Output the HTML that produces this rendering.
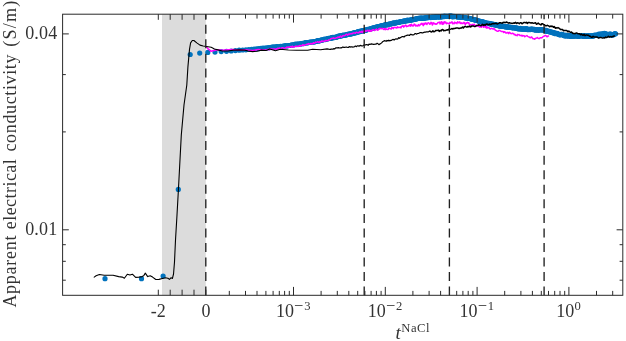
<!DOCTYPE html>
<html><head><meta charset="utf-8"><title>Apparent electrical conductivity</title>
<style>html,body{margin:0;padding:0;background:#fff}body{width:626px;height:341px;overflow:hidden}</style></head>
<body>
<svg width="626" height="341" viewBox="0 0 626 341" style="display:block">
<rect x="0" y="0" width="626" height="341" fill="#fff"/>
<rect x="162" y="14.2" width="43.8" height="281.1" fill="#dcdcdc"/>
<g fill="#0072bd">
<circle cx="105.0" cy="278.7" r="2.6"/>
<circle cx="141.5" cy="278.7" r="2.6"/>
<circle cx="163.1" cy="276.1" r="2.6"/>
<circle cx="178.3" cy="189.4" r="2.6"/>
<circle cx="190.2" cy="54.5" r="2.6"/>
<circle cx="199.7" cy="53.1" r="2.6"/>
<circle cx="207.8" cy="52.4" r="2.6"/>
<circle cx="215.0" cy="52.1" r="2.6"/>
<circle cx="221.2" cy="51.6" r="2.6"/>
<circle cx="226.5" cy="51.3" r="2.6"/>
<circle cx="231.2" cy="51.0" r="2.6"/>
<circle cx="235.4" cy="50.6" r="2.6"/>
<circle cx="239.2" cy="50.2" r="2.6"/>
<circle cx="242.7" cy="50.0" r="2.6"/>
<circle cx="245.9" cy="49.8" r="2.6"/>
<circle cx="248.8" cy="49.5" r="2.6"/>
<circle cx="251.6" cy="49.3" r="2.6"/>
<circle cx="254.1" cy="49.1" r="2.6"/>
<circle cx="256.6" cy="48.8" r="2.6"/>
<circle cx="258.8" cy="48.6" r="2.6"/>
<circle cx="261.0" cy="48.4" r="2.6"/>
<circle cx="263.0" cy="48.1" r="2.6"/>
<circle cx="265.0" cy="48.0" r="2.6"/>
<circle cx="266.8" cy="47.8" r="2.6"/>
<circle cx="268.6" cy="47.7" r="2.6"/>
<circle cx="270.3" cy="47.6" r="2.6"/>
<circle cx="271.9" cy="47.1" r="2.6"/>
<circle cx="273.5" cy="46.9" r="2.6"/>
<circle cx="275.0" cy="47.2" r="2.6"/>
<circle cx="276.4" cy="46.7" r="2.6"/>
<circle cx="277.8" cy="46.6" r="2.6"/>
<circle cx="279.2" cy="46.9" r="2.6"/>
<circle cx="280.5" cy="46.4" r="2.6"/>
<circle cx="281.8" cy="46.5" r="2.6"/>
<circle cx="283.0" cy="46.1" r="2.6"/>
<circle cx="284.2" cy="46.1" r="2.6"/>
<circle cx="285.3" cy="45.7" r="2.6"/>
<circle cx="286.5" cy="45.8" r="2.6"/>
<circle cx="287.6" cy="45.8" r="2.6"/>
<circle cx="288.6" cy="45.5" r="2.6"/>
<circle cx="289.7" cy="45.5" r="2.6"/>
<circle cx="290.7" cy="45.3" r="2.6"/>
<circle cx="291.7" cy="44.8" r="2.6"/>
<circle cx="292.6" cy="45.0" r="2.6"/>
<circle cx="293.6" cy="44.8" r="2.6"/>
<circle cx="294.5" cy="44.5" r="2.6"/>
<circle cx="295.4" cy="44.2" r="2.6"/>
<circle cx="296.2" cy="44.6" r="2.6"/>
<circle cx="297.1" cy="44.2" r="2.6"/>
<circle cx="297.9" cy="44.2" r="2.6"/>
<circle cx="298.8" cy="44.2" r="2.6"/>
<circle cx="299.6" cy="44.0" r="2.6"/>
<circle cx="300.4" cy="44.0" r="2.6"/>
<circle cx="301.1" cy="43.6" r="2.6"/>
<circle cx="301.9" cy="43.7" r="2.6"/>
<circle cx="302.6" cy="43.4" r="2.6"/>
<circle cx="303.4" cy="43.6" r="2.6"/>
<circle cx="304.1" cy="43.4" r="2.6"/>
<circle cx="304.8" cy="42.8" r="2.6"/>
<circle cx="305.5" cy="42.8" r="2.6"/>
<circle cx="306.2" cy="42.7" r="2.6"/>
<circle cx="306.9" cy="43.0" r="2.6"/>
<circle cx="307.6" cy="42.6" r="2.6"/>
<circle cx="308.3" cy="42.6" r="2.6"/>
<circle cx="309.0" cy="42.3" r="2.6"/>
<circle cx="309.7" cy="42.3" r="2.6"/>
<circle cx="310.4" cy="42.2" r="2.6"/>
<circle cx="311.1" cy="42.0" r="2.6"/>
<circle cx="311.8" cy="42.1" r="2.6"/>
<circle cx="312.5" cy="42.0" r="2.6"/>
<circle cx="313.2" cy="42.0" r="2.6"/>
<circle cx="313.9" cy="41.7" r="2.6"/>
<circle cx="314.6" cy="41.8" r="2.6"/>
<circle cx="315.3" cy="41.6" r="2.6"/>
<circle cx="316.0" cy="41.5" r="2.6"/>
<circle cx="316.7" cy="41.2" r="2.6"/>
<circle cx="317.4" cy="40.7" r="2.6"/>
<circle cx="318.1" cy="41.0" r="2.6"/>
<circle cx="318.8" cy="40.9" r="2.6"/>
<circle cx="319.5" cy="40.8" r="2.6"/>
<circle cx="320.2" cy="40.4" r="2.6"/>
<circle cx="320.9" cy="40.4" r="2.6"/>
<circle cx="321.6" cy="39.9" r="2.6"/>
<circle cx="322.3" cy="40.1" r="2.6"/>
<circle cx="323.0" cy="39.8" r="2.6"/>
<circle cx="323.7" cy="39.5" r="2.6"/>
<circle cx="324.4" cy="39.2" r="2.6"/>
<circle cx="325.1" cy="39.6" r="2.6"/>
<circle cx="325.8" cy="39.5" r="2.6"/>
<circle cx="326.5" cy="38.8" r="2.6"/>
<circle cx="327.2" cy="39.1" r="2.6"/>
<circle cx="327.9" cy="38.7" r="2.6"/>
<circle cx="328.6" cy="38.4" r="2.6"/>
<circle cx="329.3" cy="38.3" r="2.6"/>
<circle cx="330.0" cy="38.5" r="2.6"/>
<circle cx="330.7" cy="38.4" r="2.6"/>
<circle cx="331.4" cy="37.7" r="2.6"/>
<circle cx="332.1" cy="37.9" r="2.6"/>
<circle cx="332.8" cy="37.4" r="2.6"/>
<circle cx="333.5" cy="37.7" r="2.6"/>
<circle cx="334.2" cy="37.3" r="2.6"/>
<circle cx="334.9" cy="37.5" r="2.6"/>
<circle cx="335.6" cy="37.4" r="2.6"/>
<circle cx="336.3" cy="36.9" r="2.6"/>
<circle cx="337.0" cy="37.1" r="2.6"/>
<circle cx="337.7" cy="36.5" r="2.6"/>
<circle cx="338.4" cy="36.2" r="2.6"/>
<circle cx="339.1" cy="36.4" r="2.6"/>
<circle cx="339.8" cy="35.9" r="2.6"/>
<circle cx="340.5" cy="35.8" r="2.6"/>
<circle cx="341.2" cy="35.8" r="2.6"/>
<circle cx="341.9" cy="35.8" r="2.6"/>
<circle cx="342.6" cy="35.3" r="2.6"/>
<circle cx="343.3" cy="35.1" r="2.6"/>
<circle cx="344.0" cy="35.5" r="2.6"/>
<circle cx="344.7" cy="35.0" r="2.6"/>
<circle cx="345.4" cy="35.2" r="2.6"/>
<circle cx="346.1" cy="35.0" r="2.6"/>
<circle cx="346.8" cy="34.5" r="2.6"/>
<circle cx="347.5" cy="34.4" r="2.6"/>
<circle cx="348.2" cy="34.3" r="2.6"/>
<circle cx="348.9" cy="34.2" r="2.6"/>
<circle cx="349.6" cy="34.1" r="2.6"/>
<circle cx="350.3" cy="33.9" r="2.6"/>
<circle cx="351.0" cy="33.8" r="2.6"/>
<circle cx="351.7" cy="33.8" r="2.6"/>
<circle cx="352.4" cy="33.4" r="2.6"/>
<circle cx="353.1" cy="33.2" r="2.6"/>
<circle cx="353.8" cy="33.2" r="2.6"/>
<circle cx="354.5" cy="32.7" r="2.6"/>
<circle cx="355.2" cy="32.6" r="2.6"/>
<circle cx="355.9" cy="32.8" r="2.6"/>
<circle cx="356.6" cy="32.4" r="2.6"/>
<circle cx="357.3" cy="32.2" r="2.6"/>
<circle cx="358.0" cy="31.7" r="2.6"/>
<circle cx="358.7" cy="31.8" r="2.6"/>
<circle cx="359.4" cy="31.7" r="2.6"/>
<circle cx="360.1" cy="31.2" r="2.6"/>
<circle cx="360.8" cy="31.4" r="2.6"/>
<circle cx="361.5" cy="31.3" r="2.6"/>
<circle cx="362.2" cy="30.7" r="2.6"/>
<circle cx="362.9" cy="30.9" r="2.6"/>
<circle cx="363.6" cy="30.7" r="2.6"/>
<circle cx="364.3" cy="30.6" r="2.6"/>
<circle cx="365.0" cy="30.2" r="2.6"/>
<circle cx="365.7" cy="30.2" r="2.6"/>
<circle cx="366.4" cy="30.1" r="2.6"/>
<circle cx="367.1" cy="29.5" r="2.6"/>
<circle cx="367.8" cy="29.3" r="2.6"/>
<circle cx="368.5" cy="29.5" r="2.6"/>
<circle cx="369.2" cy="29.4" r="2.6"/>
<circle cx="369.9" cy="28.8" r="2.6"/>
<circle cx="370.6" cy="28.8" r="2.6"/>
<circle cx="371.3" cy="28.7" r="2.6"/>
<circle cx="372.0" cy="28.3" r="2.6"/>
<circle cx="372.7" cy="28.1" r="2.6"/>
<circle cx="373.4" cy="27.9" r="2.6"/>
<circle cx="374.1" cy="27.8" r="2.6"/>
<circle cx="374.8" cy="27.7" r="2.6"/>
<circle cx="375.5" cy="27.4" r="2.6"/>
<circle cx="376.2" cy="27.2" r="2.6"/>
<circle cx="376.9" cy="27.3" r="2.6"/>
<circle cx="377.6" cy="26.7" r="2.6"/>
<circle cx="378.3" cy="26.8" r="2.6"/>
<circle cx="379.0" cy="26.7" r="2.6"/>
<circle cx="379.7" cy="26.3" r="2.6"/>
<circle cx="380.4" cy="26.1" r="2.6"/>
<circle cx="381.1" cy="26.2" r="2.6"/>
<circle cx="381.8" cy="25.7" r="2.6"/>
<circle cx="382.5" cy="25.5" r="2.6"/>
<circle cx="383.2" cy="25.5" r="2.6"/>
<circle cx="383.9" cy="25.5" r="2.6"/>
<circle cx="384.6" cy="24.9" r="2.6"/>
<circle cx="385.3" cy="24.9" r="2.6"/>
<circle cx="386.0" cy="24.7" r="2.6"/>
<circle cx="386.7" cy="24.9" r="2.6"/>
<circle cx="387.4" cy="24.5" r="2.6"/>
<circle cx="388.1" cy="24.6" r="2.6"/>
<circle cx="388.8" cy="24.0" r="2.6"/>
<circle cx="389.5" cy="24.0" r="2.6"/>
<circle cx="390.2" cy="24.0" r="2.6"/>
<circle cx="390.9" cy="24.0" r="2.6"/>
<circle cx="391.6" cy="23.6" r="2.6"/>
<circle cx="392.3" cy="23.3" r="2.6"/>
<circle cx="393.0" cy="23.1" r="2.6"/>
<circle cx="393.7" cy="23.2" r="2.6"/>
<circle cx="394.4" cy="22.9" r="2.6"/>
<circle cx="395.1" cy="23.1" r="2.6"/>
<circle cx="395.8" cy="23.0" r="2.6"/>
<circle cx="396.5" cy="22.4" r="2.6"/>
<circle cx="397.2" cy="22.3" r="2.6"/>
<circle cx="397.9" cy="22.5" r="2.6"/>
<circle cx="398.6" cy="22.3" r="2.6"/>
<circle cx="399.3" cy="22.2" r="2.6"/>
<circle cx="400.0" cy="21.8" r="2.6"/>
<circle cx="400.7" cy="21.6" r="2.6"/>
<circle cx="401.4" cy="21.5" r="2.6"/>
<circle cx="402.1" cy="21.7" r="2.6"/>
<circle cx="402.8" cy="21.3" r="2.6"/>
<circle cx="403.5" cy="21.2" r="2.6"/>
<circle cx="404.2" cy="21.1" r="2.6"/>
<circle cx="404.9" cy="20.9" r="2.6"/>
<circle cx="405.6" cy="20.8" r="2.6"/>
<circle cx="406.3" cy="21.0" r="2.6"/>
<circle cx="407.0" cy="20.4" r="2.6"/>
<circle cx="407.7" cy="20.2" r="2.6"/>
<circle cx="408.4" cy="20.6" r="2.6"/>
<circle cx="409.1" cy="20.4" r="2.6"/>
<circle cx="409.8" cy="20.3" r="2.6"/>
<circle cx="410.5" cy="19.9" r="2.6"/>
<circle cx="411.2" cy="20.1" r="2.6"/>
<circle cx="411.9" cy="19.9" r="2.6"/>
<circle cx="412.6" cy="19.4" r="2.6"/>
<circle cx="413.3" cy="19.6" r="2.6"/>
<circle cx="414.0" cy="19.5" r="2.6"/>
<circle cx="414.7" cy="19.3" r="2.6"/>
<circle cx="415.4" cy="19.1" r="2.6"/>
<circle cx="416.1" cy="18.8" r="2.6"/>
<circle cx="416.8" cy="18.8" r="2.6"/>
<circle cx="417.5" cy="18.6" r="2.6"/>
<circle cx="418.2" cy="18.3" r="2.6"/>
<circle cx="418.9" cy="18.5" r="2.6"/>
<circle cx="419.6" cy="18.2" r="2.6"/>
<circle cx="420.3" cy="18.5" r="2.6"/>
<circle cx="421.0" cy="17.9" r="2.6"/>
<circle cx="421.7" cy="18.4" r="2.6"/>
<circle cx="422.4" cy="18.2" r="2.6"/>
<circle cx="423.1" cy="18.3" r="2.6"/>
<circle cx="423.8" cy="18.2" r="2.6"/>
<circle cx="424.5" cy="18.1" r="2.6"/>
<circle cx="425.2" cy="17.9" r="2.6"/>
<circle cx="425.9" cy="17.5" r="2.6"/>
<circle cx="426.6" cy="17.9" r="2.6"/>
<circle cx="427.3" cy="17.4" r="2.6"/>
<circle cx="428.0" cy="17.5" r="2.6"/>
<circle cx="428.7" cy="17.6" r="2.6"/>
<circle cx="429.4" cy="17.5" r="2.6"/>
<circle cx="430.1" cy="17.3" r="2.6"/>
<circle cx="430.8" cy="17.6" r="2.6"/>
<circle cx="431.5" cy="17.4" r="2.6"/>
<circle cx="432.2" cy="17.2" r="2.6"/>
<circle cx="432.9" cy="17.0" r="2.6"/>
<circle cx="433.6" cy="17.4" r="2.6"/>
<circle cx="434.3" cy="17.1" r="2.6"/>
<circle cx="435.0" cy="17.2" r="2.6"/>
<circle cx="435.7" cy="16.9" r="2.6"/>
<circle cx="436.4" cy="16.8" r="2.6"/>
<circle cx="437.1" cy="16.9" r="2.6"/>
<circle cx="437.8" cy="17.0" r="2.6"/>
<circle cx="438.5" cy="16.6" r="2.6"/>
<circle cx="439.2" cy="16.9" r="2.6"/>
<circle cx="439.9" cy="17.0" r="2.6"/>
<circle cx="440.6" cy="16.9" r="2.6"/>
<circle cx="441.3" cy="16.8" r="2.6"/>
<circle cx="442.0" cy="16.3" r="2.6"/>
<circle cx="442.7" cy="16.6" r="2.6"/>
<circle cx="443.4" cy="16.7" r="2.6"/>
<circle cx="444.1" cy="16.2" r="2.6"/>
<circle cx="444.8" cy="16.3" r="2.6"/>
<circle cx="445.5" cy="16.3" r="2.6"/>
<circle cx="446.2" cy="16.4" r="2.6"/>
<circle cx="446.9" cy="16.3" r="2.6"/>
<circle cx="447.6" cy="16.3" r="2.6"/>
<circle cx="448.3" cy="16.5" r="2.6"/>
<circle cx="449.0" cy="16.1" r="2.6"/>
<circle cx="449.7" cy="16.1" r="2.6"/>
<circle cx="450.4" cy="16.2" r="2.6"/>
<circle cx="451.1" cy="16.2" r="2.6"/>
<circle cx="451.8" cy="16.2" r="2.6"/>
<circle cx="452.5" cy="16.8" r="2.6"/>
<circle cx="453.2" cy="16.7" r="2.6"/>
<circle cx="453.9" cy="16.3" r="2.6"/>
<circle cx="454.6" cy="16.6" r="2.6"/>
<circle cx="455.3" cy="16.5" r="2.6"/>
<circle cx="456.0" cy="16.5" r="2.6"/>
<circle cx="456.7" cy="16.6" r="2.6"/>
<circle cx="457.4" cy="16.9" r="2.6"/>
<circle cx="458.1" cy="16.9" r="2.6"/>
<circle cx="458.8" cy="16.9" r="2.6"/>
<circle cx="459.5" cy="16.9" r="2.6"/>
<circle cx="460.2" cy="17.0" r="2.6"/>
<circle cx="460.9" cy="17.0" r="2.6"/>
<circle cx="461.6" cy="17.4" r="2.6"/>
<circle cx="462.3" cy="17.5" r="2.6"/>
<circle cx="463.0" cy="17.4" r="2.6"/>
<circle cx="463.7" cy="17.3" r="2.6"/>
<circle cx="464.4" cy="17.5" r="2.6"/>
<circle cx="465.1" cy="17.7" r="2.6"/>
<circle cx="465.8" cy="17.9" r="2.6"/>
<circle cx="466.5" cy="18.1" r="2.6"/>
<circle cx="467.2" cy="18.0" r="2.6"/>
<circle cx="467.9" cy="18.3" r="2.6"/>
<circle cx="468.6" cy="18.3" r="2.6"/>
<circle cx="469.3" cy="18.4" r="2.6"/>
<circle cx="470.0" cy="18.5" r="2.6"/>
<circle cx="470.7" cy="18.8" r="2.6"/>
<circle cx="471.4" cy="19.1" r="2.6"/>
<circle cx="472.1" cy="19.1" r="2.6"/>
<circle cx="472.8" cy="19.5" r="2.6"/>
<circle cx="473.5" cy="19.5" r="2.6"/>
<circle cx="474.2" cy="19.6" r="2.6"/>
<circle cx="474.9" cy="19.9" r="2.6"/>
<circle cx="475.6" cy="20.2" r="2.6"/>
<circle cx="476.3" cy="20.0" r="2.6"/>
<circle cx="477.0" cy="20.4" r="2.6"/>
<circle cx="477.7" cy="20.6" r="2.6"/>
<circle cx="478.4" cy="21.1" r="2.6"/>
<circle cx="479.1" cy="21.3" r="2.6"/>
<circle cx="479.8" cy="21.1" r="2.6"/>
<circle cx="480.5" cy="21.7" r="2.6"/>
<circle cx="481.2" cy="21.8" r="2.6"/>
<circle cx="481.9" cy="21.7" r="2.6"/>
<circle cx="482.6" cy="22.0" r="2.6"/>
<circle cx="483.3" cy="21.9" r="2.6"/>
<circle cx="484.0" cy="22.5" r="2.6"/>
<circle cx="484.7" cy="22.6" r="2.6"/>
<circle cx="485.4" cy="22.9" r="2.6"/>
<circle cx="486.1" cy="23.1" r="2.6"/>
<circle cx="486.8" cy="23.1" r="2.6"/>
<circle cx="487.5" cy="23.4" r="2.6"/>
<circle cx="488.2" cy="23.4" r="2.6"/>
<circle cx="488.9" cy="23.3" r="2.6"/>
<circle cx="489.6" cy="23.8" r="2.6"/>
<circle cx="490.3" cy="23.6" r="2.6"/>
<circle cx="491.0" cy="23.8" r="2.6"/>
<circle cx="491.7" cy="24.4" r="2.6"/>
<circle cx="492.4" cy="24.1" r="2.6"/>
<circle cx="493.1" cy="24.3" r="2.6"/>
<circle cx="493.8" cy="24.4" r="2.6"/>
<circle cx="494.5" cy="25.0" r="2.6"/>
<circle cx="495.2" cy="24.7" r="2.6"/>
<circle cx="495.9" cy="24.7" r="2.6"/>
<circle cx="496.6" cy="25.4" r="2.6"/>
<circle cx="497.3" cy="25.1" r="2.6"/>
<circle cx="498.0" cy="25.6" r="2.6"/>
<circle cx="498.7" cy="25.6" r="2.6"/>
<circle cx="499.4" cy="25.9" r="2.6"/>
<circle cx="500.1" cy="26.1" r="2.6"/>
<circle cx="500.8" cy="26.0" r="2.6"/>
<circle cx="501.5" cy="26.2" r="2.6"/>
<circle cx="502.2" cy="25.9" r="2.6"/>
<circle cx="502.9" cy="26.4" r="2.6"/>
<circle cx="503.6" cy="26.4" r="2.6"/>
<circle cx="504.3" cy="26.6" r="2.6"/>
<circle cx="505.0" cy="26.4" r="2.6"/>
<circle cx="505.7" cy="26.9" r="2.6"/>
<circle cx="506.4" cy="27.1" r="2.6"/>
<circle cx="507.1" cy="26.7" r="2.6"/>
<circle cx="507.8" cy="26.9" r="2.6"/>
<circle cx="508.5" cy="27.2" r="2.6"/>
<circle cx="509.2" cy="27.5" r="2.6"/>
<circle cx="509.9" cy="27.2" r="2.6"/>
<circle cx="510.6" cy="27.3" r="2.6"/>
<circle cx="511.3" cy="27.4" r="2.6"/>
<circle cx="512.0" cy="27.7" r="2.6"/>
<circle cx="512.7" cy="27.8" r="2.6"/>
<circle cx="513.4" cy="27.7" r="2.6"/>
<circle cx="514.1" cy="27.7" r="2.6"/>
<circle cx="514.8" cy="27.8" r="2.6"/>
<circle cx="515.5" cy="28.1" r="2.6"/>
<circle cx="516.2" cy="28.2" r="2.6"/>
<circle cx="516.9" cy="27.9" r="2.6"/>
<circle cx="517.6" cy="28.5" r="2.6"/>
<circle cx="518.3" cy="29.0" r="2.6"/>
<circle cx="519.0" cy="28.5" r="2.6"/>
<circle cx="519.7" cy="28.9" r="2.6"/>
<circle cx="520.4" cy="28.4" r="2.6"/>
<circle cx="521.1" cy="29.0" r="2.6"/>
<circle cx="521.8" cy="29.1" r="2.6"/>
<circle cx="522.5" cy="29.1" r="2.6"/>
<circle cx="523.2" cy="28.9" r="2.6"/>
<circle cx="523.9" cy="28.9" r="2.6"/>
<circle cx="524.6" cy="29.2" r="2.6"/>
<circle cx="525.3" cy="29.5" r="2.6"/>
<circle cx="526.0" cy="28.7" r="2.6"/>
<circle cx="526.7" cy="28.7" r="2.6"/>
<circle cx="527.4" cy="29.5" r="2.6"/>
<circle cx="528.1" cy="29.7" r="2.6"/>
<circle cx="528.8" cy="29.3" r="2.6"/>
<circle cx="529.5" cy="29.3" r="2.6"/>
<circle cx="530.2" cy="29.6" r="2.6"/>
<circle cx="530.9" cy="29.1" r="2.6"/>
<circle cx="531.6" cy="29.2" r="2.6"/>
<circle cx="532.3" cy="29.2" r="2.6"/>
<circle cx="533.0" cy="29.6" r="2.6"/>
<circle cx="533.7" cy="29.4" r="2.6"/>
<circle cx="534.4" cy="29.3" r="2.6"/>
<circle cx="535.1" cy="29.9" r="2.6"/>
<circle cx="535.8" cy="30.2" r="2.6"/>
<circle cx="536.5" cy="29.5" r="2.6"/>
<circle cx="537.2" cy="30.0" r="2.6"/>
<circle cx="537.9" cy="29.7" r="2.6"/>
<circle cx="538.6" cy="30.3" r="2.6"/>
<circle cx="539.3" cy="30.0" r="2.6"/>
<circle cx="540.0" cy="29.7" r="2.6"/>
<circle cx="540.7" cy="29.7" r="2.6"/>
<circle cx="541.4" cy="29.5" r="2.6"/>
<circle cx="542.1" cy="30.1" r="2.6"/>
<circle cx="542.8" cy="30.0" r="2.6"/>
<circle cx="543.5" cy="29.8" r="2.6"/>
<circle cx="544.2" cy="30.1" r="2.6"/>
<circle cx="544.9" cy="30.3" r="2.6"/>
<circle cx="545.6" cy="30.9" r="2.6"/>
<circle cx="546.3" cy="30.4" r="2.6"/>
<circle cx="547.0" cy="31.5" r="2.6"/>
<circle cx="547.7" cy="31.1" r="2.6"/>
<circle cx="548.4" cy="31.3" r="2.6"/>
<circle cx="549.1" cy="31.4" r="2.6"/>
<circle cx="549.8" cy="31.9" r="2.6"/>
<circle cx="550.5" cy="32.1" r="2.6"/>
<circle cx="551.2" cy="32.0" r="2.6"/>
<circle cx="551.9" cy="32.1" r="2.6"/>
<circle cx="552.6" cy="32.6" r="2.6"/>
<circle cx="553.3" cy="32.9" r="2.6"/>
<circle cx="554.0" cy="32.6" r="2.6"/>
<circle cx="554.7" cy="33.2" r="2.6"/>
<circle cx="555.4" cy="33.7" r="2.6"/>
<circle cx="556.1" cy="33.3" r="2.6"/>
<circle cx="556.8" cy="33.3" r="2.6"/>
<circle cx="557.5" cy="33.5" r="2.6"/>
<circle cx="558.2" cy="34.2" r="2.6"/>
<circle cx="558.9" cy="34.3" r="2.6"/>
<circle cx="559.6" cy="34.8" r="2.6"/>
<circle cx="560.3" cy="34.8" r="2.6"/>
<circle cx="561.0" cy="34.3" r="2.6"/>
<circle cx="561.7" cy="34.4" r="2.6"/>
<circle cx="562.4" cy="34.7" r="2.6"/>
<circle cx="563.1" cy="34.8" r="2.6"/>
<circle cx="563.8" cy="35.4" r="2.6"/>
<circle cx="564.5" cy="35.7" r="2.6"/>
<circle cx="565.2" cy="35.9" r="2.6"/>
<circle cx="565.9" cy="35.2" r="2.6"/>
<circle cx="566.6" cy="36.0" r="2.6"/>
<circle cx="567.3" cy="35.5" r="2.6"/>
<circle cx="568.0" cy="35.7" r="2.6"/>
<circle cx="568.7" cy="36.2" r="2.6"/>
<circle cx="569.4" cy="35.6" r="2.6"/>
<circle cx="570.1" cy="35.7" r="2.6"/>
<circle cx="570.8" cy="36.5" r="2.6"/>
<circle cx="571.5" cy="35.9" r="2.6"/>
<circle cx="572.2" cy="35.9" r="2.6"/>
<circle cx="572.9" cy="36.2" r="2.6"/>
<circle cx="573.6" cy="36.2" r="2.6"/>
<circle cx="574.3" cy="35.5" r="2.6"/>
<circle cx="575.0" cy="35.9" r="2.6"/>
<circle cx="575.7" cy="36.0" r="2.6"/>
<circle cx="576.4" cy="36.0" r="2.6"/>
<circle cx="577.1" cy="35.7" r="2.6"/>
<circle cx="577.8" cy="36.1" r="2.6"/>
<circle cx="578.5" cy="36.5" r="2.6"/>
<circle cx="579.2" cy="35.9" r="2.6"/>
<circle cx="579.9" cy="36.0" r="2.6"/>
<circle cx="580.6" cy="35.5" r="2.6"/>
<circle cx="581.3" cy="35.7" r="2.6"/>
<circle cx="582.0" cy="36.1" r="2.6"/>
<circle cx="582.7" cy="35.5" r="2.6"/>
<circle cx="583.4" cy="36.3" r="2.6"/>
<circle cx="584.1" cy="36.4" r="2.6"/>
<circle cx="584.8" cy="35.5" r="2.6"/>
<circle cx="585.5" cy="36.4" r="2.6"/>
<circle cx="586.2" cy="35.8" r="2.6"/>
<circle cx="586.9" cy="36.2" r="2.6"/>
<circle cx="587.6" cy="36.2" r="2.6"/>
<circle cx="588.3" cy="35.7" r="2.6"/>
<circle cx="589.0" cy="36.1" r="2.6"/>
<circle cx="589.7" cy="36.1" r="2.6"/>
<circle cx="590.4" cy="36.2" r="2.6"/>
<circle cx="591.1" cy="35.6" r="2.6"/>
<circle cx="591.8" cy="36.2" r="2.6"/>
<circle cx="592.5" cy="36.3" r="2.6"/>
<circle cx="593.2" cy="35.9" r="2.6"/>
<circle cx="593.9" cy="35.7" r="2.6"/>
<circle cx="594.6" cy="35.2" r="2.6"/>
<circle cx="595.3" cy="35.5" r="2.6"/>
<circle cx="596.0" cy="35.2" r="2.6"/>
<circle cx="596.7" cy="35.4" r="2.6"/>
<circle cx="597.4" cy="35.2" r="2.6"/>
<circle cx="598.1" cy="35.0" r="2.6"/>
<circle cx="598.8" cy="34.2" r="2.6"/>
<circle cx="599.5" cy="34.9" r="2.6"/>
<circle cx="600.2" cy="34.8" r="2.6"/>
<circle cx="600.9" cy="33.9" r="2.6"/>
<circle cx="601.6" cy="35.1" r="2.6"/>
<circle cx="602.3" cy="34.5" r="2.6"/>
<circle cx="603.0" cy="33.5" r="2.6"/>
<circle cx="603.7" cy="34.8" r="2.6"/>
<circle cx="604.4" cy="33.3" r="2.6"/>
<circle cx="605.1" cy="33.6" r="2.6"/>
<circle cx="605.8" cy="34.3" r="2.6"/>
<circle cx="606.5" cy="34.2" r="2.6"/>
<circle cx="607.2" cy="34.3" r="2.6"/>
<circle cx="607.9" cy="34.6" r="2.6"/>
<circle cx="608.6" cy="34.4" r="2.6"/>
<circle cx="609.3" cy="34.3" r="2.6"/>
<circle cx="610.0" cy="34.2" r="2.6"/>
<circle cx="610.7" cy="34.1" r="2.6"/>
<circle cx="611.4" cy="35.1" r="2.6"/>
<circle cx="612.1" cy="35.1" r="2.6"/>
<circle cx="612.8" cy="34.6" r="2.6"/>
<circle cx="613.5" cy="34.8" r="2.6"/>
<circle cx="614.2" cy="34.0" r="2.6"/>
<circle cx="614.9" cy="33.7" r="2.6"/>
<circle cx="615.6" cy="33.8" r="2.6"/>
</g>
<polyline points="206.2,46.8 208.5,49.2 211.2,51.3 216.8,49.8 222.4,50.3 232.4,49.4 239.1,50.1 244.7,49.8 252.6,50.5 258.2,49.6 264.9,50.1 269.3,49.3 269.3,49.7 270.0,48.7 270.7,49.2 271.4,48.9 272.1,49.5 272.8,48.9 273.5,48.9 274.2,48.9 274.9,49.1 275.6,49.3 276.3,48.8 277.0,49.3 277.7,48.3 278.4,48.4 279.1,48.1 279.8,48.1 280.5,48.8 281.2,48.6 281.9,47.8 282.6,47.7 283.3,47.9 284.0,48.2 284.7,48.2 285.4,48.0 286.1,47.7 286.8,47.1 287.5,47.3 288.2,47.0 288.9,47.3 289.6,47.2 290.3,46.7 291.0,46.6 291.7,47.2 292.4,46.2 293.1,47.0 293.8,47.0 294.5,47.0 295.2,46.2 295.9,46.3 296.6,46.2 297.3,46.2 298.0,46.5 298.7,46.1 299.4,45.5 300.1,46.1 300.8,45.5 301.5,45.6 302.2,45.6 302.9,44.6 303.6,45.5 304.3,45.2 305.0,44.9 305.7,44.8 306.4,44.6 307.1,44.1 307.8,44.3 308.5,43.6 309.2,44.0 309.9,44.0 310.6,43.6 311.3,43.6 312.0,44.0 312.7,43.7 313.4,42.7 314.1,43.3 314.8,43.0 315.5,42.1 316.2,42.4 316.9,42.1 317.6,41.7 318.3,42.1 319.0,42.5 319.7,41.6 320.4,42.1 321.1,41.7 321.8,40.9 322.5,41.6 323.2,41.2 323.9,41.4 324.6,41.0 325.3,40.9 326.0,40.3 326.7,40.7 327.4,40.7 328.1,40.4 328.8,39.8 329.5,40.0 330.2,39.5 330.9,38.7 331.6,38.4 332.3,38.3 333.0,38.3 333.7,38.0 334.4,38.4 335.1,38.5 335.8,38.0 336.5,37.7 337.2,37.8 337.9,37.1 338.6,37.1 339.3,37.4 340.0,36.6 340.7,36.1 341.4,37.1 342.1,36.6 342.8,35.8 343.5,35.6 344.2,35.7 344.9,35.6 345.6,34.8 346.3,34.3 347.0,34.5 347.7,35.2 348.4,34.1 349.1,34.4 349.8,33.9 350.5,33.8 351.2,33.6 351.9,33.8 352.6,33.3 353.3,32.9 354.0,32.9 354.7,32.9 355.4,33.3 356.1,32.4 356.8,32.2 357.5,32.8 358.2,32.6 358.9,32.9 359.6,31.7 360.3,32.2 361.0,32.0 361.7,31.3 362.4,32.6 363.1,31.3 363.8,31.0 364.5,31.5 365.2,30.9 365.9,31.5 366.6,30.9 367.3,30.5 368.0,30.3 368.7,31.2 369.4,30.4 370.1,31.1 370.8,30.5 371.5,31.1 372.2,30.0 372.9,29.8 373.6,29.8 374.3,30.5 375.0,30.1 375.7,29.6 376.4,29.1 377.1,29.9 377.8,30.2 378.5,29.5 379.2,28.5 379.9,28.5 380.6,28.6 381.3,28.7 382.0,28.4 382.7,28.4 383.4,29.3 384.1,29.6 384.8,28.5 385.5,29.7 386.2,28.8 386.9,29.3 387.6,29.4 388.3,29.4 389.0,27.9 389.7,28.3 390.4,28.7 391.1,29.1 391.8,27.6 392.5,27.8 393.2,28.6 393.9,27.3 394.6,27.6 395.3,27.4 396.0,27.8 396.7,28.1 397.4,26.8 398.1,27.6 398.8,27.4 399.5,27.5 400.2,27.0 400.9,27.9 401.6,26.2 402.3,26.2 403.0,25.6 403.7,27.1 404.4,26.2 405.1,25.5 405.8,25.1 406.5,26.6 407.2,26.2 407.9,26.4 408.6,25.5 409.3,25.7 410.0,24.7 410.7,26.2 411.4,24.2 412.1,25.3 412.8,26.1 413.5,25.8 414.2,24.1 414.9,24.4 415.6,26.0 416.3,25.4 417.0,26.0 417.7,25.9 418.4,24.6 419.1,25.8 419.8,25.3 420.5,24.1 421.2,24.2 421.9,23.3 422.6,24.1 423.3,25.6 424.0,23.2 424.7,24.4 425.4,23.1 426.1,23.0 426.8,24.5 427.5,23.3 428.2,22.7 428.9,22.9 429.6,24.2 430.3,24.0 431.0,22.4 431.7,22.9 432.4,25.0 433.1,22.8 433.8,23.7 434.5,23.3 435.2,24.3 435.9,23.7 436.6,24.2 437.3,23.5 438.0,22.4 438.7,22.4 439.4,22.1 440.1,24.1 440.8,22.1 441.5,21.8 442.2,24.4 442.9,22.2 443.6,24.1 444.3,21.8 445.0,22.8 445.7,22.1 446.4,23.8 447.1,23.1 447.8,23.2 448.5,23.5 449.2,23.9 449.9,22.4 450.6,23.1 451.3,22.7 452.0,21.8 452.7,23.8 453.4,23.1 454.1,23.8 454.8,22.1 455.5,23.0 456.2,22.8 456.9,23.6 457.6,21.8 458.3,22.5 459.0,22.9 459.7,21.8 460.4,23.1 461.1,23.6 461.8,22.8 462.5,23.5 463.2,23.4 463.9,22.4 464.6,22.9 465.3,24.7 466.0,23.0 466.7,23.3 467.4,22.4 468.1,22.9 468.8,22.8 469.5,25.0 470.2,24.5 470.9,25.0 471.6,25.4 472.3,24.4 473.0,25.4 473.7,24.4 474.4,24.2 475.1,25.9 475.8,25.9 476.5,26.2 477.2,25.1 477.9,26.0 478.6,25.2 479.3,27.0 480.0,26.9 480.7,25.3 481.4,27.3 482.1,25.4 482.8,25.3 483.5,27.2 484.2,26.2 484.9,27.0 485.6,27.5 486.3,26.0 487.0,28.2 487.7,27.1 488.4,27.7 489.1,27.7 489.8,29.0 490.5,28.9 491.2,28.4 491.9,28.3 492.6,28.8 493.3,29.1 494.0,28.8 494.7,29.1 495.4,30.3 496.1,30.4 496.8,31.0 497.5,31.2 498.2,31.2 498.9,30.5 499.6,30.4 500.3,30.8 501.0,31.2 501.7,31.5 502.4,31.6 503.1,31.5 503.8,32.5 504.5,31.7 505.2,32.2 505.9,33.0 506.6,33.1 507.3,32.4 508.0,32.5 508.7,33.6 509.4,32.4 510.1,32.8 510.8,33.6 511.5,33.7 512.2,33.3 512.9,33.3 513.6,33.7 514.3,34.8 515.0,34.4 515.7,35.4 516.4,35.2 517.1,35.7 517.8,34.4 518.5,34.8 519.2,34.6 519.9,35.5 520.6,35.5 521.3,35.3 522.0,36.1 522.7,35.4 523.4,35.8 524.1,35.8 524.8,36.7 525.5,36.1 526.2,35.9 526.9,35.6 527.6,36.3 528.3,36.7 529.0,36.9 529.7,37.5 530.4,37.7 531.1,37.0 531.8,37.1 532.5,38.4 533.2,38.8 533.9,38.6 534.6,39.3 535.3,38.7 536.0,38.2 536.7,37.9 537.4,37.5 538.1,38.4 538.8,38.6 539.5,38.5 540.2,37.7 540.9,37.7 541.6,37.9 542.3,37.4 543.0,36.8 543.7,36.2 544.4,36.1 545.1,35.5 545.8,35.5 546.5,36.3 547.2,36.8 547.9,36.1 548.5,36.0" fill="none" stroke="#ff00ff" stroke-width="1.5" stroke-linejoin="round" stroke-linecap="round"/>
<polyline points="94.2,277.1 96.1,275.8 99.4,274.5 104.2,275.3 113.1,275.3 118.7,276.6 122.3,277.1 124.4,278.2 127.3,274.2 130.0,275.0 132.4,274.2 135.6,277.4 138.9,277.1 142.1,276.6 143.7,275.8 145.3,273.1 147.7,276.6 150.2,275.8 152.6,277.1 155.8,279.5 159.0,279.4 162.3,278.5 165.5,277.7 167.9,278.2 169.5,279.4 171.1,277.7 172.4,278.5 173.5,274.2 174.5,262.0 175.5,240.0 177.0,215.0 178.4,190.0 181.3,135.0 184.0,105.0 186.8,85.0 187.9,67.1 189.5,49.4 190.6,42.9 192.3,40.5 193.9,40.5 196.8,42.9 200.0,45.1 203.2,46.0 206.5,46.5 211.2,47.3 214.5,49.0 217.9,49.9 222.4,51.0 228.0,51.0 233.6,50.1 239.1,49.9 244.7,50.1 248.1,51.0 252.6,51.6 257.0,51.2 261.5,50.1 266.0,50.5 269.8,48.9 275.5,50.8 280.3,49.2 288.4,50.0 296.5,50.2 307.7,50.2 312.6,49.2 320.6,49.7 327.1,48.9 330.3,49.5" fill="none" stroke="#000" stroke-width="1.1" stroke-linejoin="round" stroke-linecap="round"/>
<polyline points="330.3,49.4 331.2,49.1 332.1,49.0 333.0,49.2 333.9,48.6 334.8,48.9 335.7,47.9 336.6,47.9 337.5,47.9 338.4,47.6 339.3,48.0 340.2,47.9 341.1,47.9 342.0,47.6 342.9,46.9 343.8,47.4 344.7,47.3 345.6,47.2 346.5,47.0 347.4,47.3 348.3,47.5 349.2,46.6 350.1,47.1 351.0,46.8 351.9,46.8 352.8,47.1 353.7,47.0 354.6,46.6 355.5,46.0 356.4,46.7 357.3,45.8 358.2,45.9 359.1,46.2 360.0,45.6 360.9,45.4 361.8,46.0 362.7,45.9 363.6,45.2 364.5,45.1 365.4,44.9 366.3,44.6 367.2,44.6 368.1,45.3 369.0,44.2 369.9,44.3 370.8,44.1 371.7,43.9 372.6,44.2 373.5,44.4 374.4,44.3 375.3,44.0 376.2,44.1 377.1,43.3 378.0,43.8 378.9,44.7 379.8,44.0 380.7,43.6 381.6,42.9 382.5,41.8 383.4,41.3 384.3,40.7 385.2,40.8 386.1,41.3 387.0,40.4 387.9,41.0 388.8,40.2 389.7,40.9 390.6,40.4 391.5,40.3 392.4,39.6 393.3,39.4 394.2,40.0 395.1,39.2 396.0,38.8 396.9,39.1 397.8,38.9 398.7,37.7 399.6,38.3 400.5,37.5 401.4,37.1 402.3,36.6 403.2,36.6 404.1,37.0 405.0,36.0 405.9,35.7 406.8,35.4 407.7,35.2 408.6,35.2 409.5,35.5 410.4,34.4 411.3,34.4 412.2,34.9 413.1,34.8 414.0,34.6 414.9,33.7 415.8,33.7 416.7,34.1 417.6,33.5 418.5,33.5 419.4,33.0 420.3,32.5 421.2,32.7 422.1,32.9 423.0,32.8 423.9,32.4 424.8,32.2 425.7,32.1 426.6,31.8 427.5,31.8 428.4,31.9 429.3,31.1 430.2,31.4" fill="none" stroke="#000" stroke-width="1.2" stroke-linejoin="round" stroke-linecap="round"/>
<polyline points="430.2,31.4 431.1,31.9 432.0,31.7 432.9,30.7 433.8,31.8 434.7,31.6 435.6,30.5 436.5,30.6 437.4,30.4 438.3,30.1 439.2,31.4 440.1,30.4 441.0,31.0 441.9,29.7 442.8,29.5 443.7,30.7 444.6,30.5 445.5,30.6 446.4,30.1 447.3,29.7 448.2,30.0 449.1,28.9 450.0,29.4 450.9,29.1 451.8,28.5 452.7,29.0 453.6,28.5 454.5,28.6 455.4,28.2 456.3,28.0 457.2,27.9 458.1,28.1 459.0,28.5 459.9,28.3 460.8,28.1 461.7,27.9 462.6,27.0 463.5,27.9 464.4,26.7 465.3,26.4 466.2,26.9 467.1,27.1 468.0,26.4 468.9,26.8 469.8,26.1 470.7,27.0 471.6,26.1 472.5,26.1 473.4,26.0 474.3,26.4 475.2,26.5 476.1,25.7 477.0,25.5 477.9,25.6 478.8,24.7 479.7,25.1 480.6,25.7 481.5,25.5 482.4,24.3 483.3,25.4 484.2,24.6 485.1,25.4 486.0,24.3 486.9,24.0 487.8,24.4 488.7,24.8 489.6,24.1 490.5,24.6 491.4,24.3 492.3,23.7 493.2,23.5 494.1,23.7 495.0,23.4 495.9,23.3 496.8,23.7 497.7,23.9 498.6,23.4 499.5,22.7 500.4,22.8 501.3,22.9 502.2,23.2 503.1,22.4 504.0,22.3 504.9,22.6 505.8,22.5 506.7,22.0 507.6,22.7 508.5,23.2 509.4,22.7 510.3,23.0 511.2,23.2 512.1,23.3 513.0,23.4 513.9,22.8 514.8,23.2 515.7,22.4 516.6,23.5 517.5,22.8 518.4,23.0 519.3,23.7 520.2,22.8 521.1,22.7 522.0,23.7 522.9,23.3 523.8,22.5 524.7,22.4 525.6,22.8 526.5,22.3 527.4,23.5 528.3,22.5 529.2,22.6 530.1,22.7 531.0,22.9 531.9,22.7 532.8,23.0 533.7,23.2 534.6,23.1 535.5,22.7 536.4,24.2 537.3,23.9 538.2,23.1 539.1,23.8 540.0,24.4 540.9,25.0 541.8,23.7 542.7,23.8 543.6,24.6 544.5,24.8 545.4,25.7 546.3,25.8 547.2,25.3 548.1,25.6 549.0,26.1 549.9,26.8 550.8,26.0 551.7,26.5 552.6,26.2 553.5,27.3 554.4,26.6 555.3,28.2 556.2,27.8 557.1,28.1 558.0,27.6 558.9,28.1 559.8,28.8 560.7,29.6 561.6,29.5 562.5,29.4 563.4,30.7 564.3,30.5 565.2,30.6 566.1,30.4 567.0,30.8 567.9,31.9 568.8,31.0 569.7,31.9 570.6,32.3 571.5,32.1 572.4,33.0 573.3,33.5 574.2,33.6 575.1,33.7 576.0,33.1 576.9,33.0 577.8,33.7 578.7,33.7 579.6,33.7 580.5,34.8 581.4,34.0 582.3,35.0 583.2,35.3 584.1,34.3 585.0,35.7 585.9,35.1 586.8,35.1 587.7,35.3 588.6,35.3 589.5,36.2 590.4,36.2 591.3,37.2 592.2,37.3 593.1,36.3 594.0,37.0 594.9,37.1 595.8,36.9 596.7,37.1 597.6,37.3 598.5,38.1 599.4,37.7 600.3,37.4 601.2,37.6 602.1,37.9 603.0,38.1 603.9,37.6 604.8,38.1 605.7,37.1 606.6,37.5 607.5,37.1 608.4,36.3 609.3,37.2 610.2,36.6 611.1,36.9 612.0,36.7 612.9,36.6 613.8,36.1 614.4,36.0" fill="none" stroke="#000" stroke-width="1.5" stroke-linejoin="round" stroke-linecap="round"/>
<path d="M205.8 286.6V295.3M205.8 272.1V281.1M205.8 257.5V266.5M205.8 243.0V252.0M205.8 228.4V237.4M205.8 213.9V222.9M205.8 199.3V208.3M205.8 184.8V193.8M205.8 170.2V179.2M205.8 155.7V164.7M205.8 141.1V150.1M205.8 126.6V135.6M205.8 112.0V121.0M205.8 97.5V106.5M205.8 82.9V91.9M205.8 68.4V77.4M205.8 53.8V62.8M205.8 39.2V48.2M205.8 24.7V33.7M205.8 14.2V19.2" stroke="#202020" stroke-width="1.35" fill="none"/>
<path d="M364.2 286.6V295.3M364.2 272.1V281.1M364.2 257.5V266.5M364.2 243.0V252.0M364.2 228.4V237.4M364.2 213.9V222.9M364.2 199.3V208.3M364.2 184.8V193.8M364.2 170.2V179.2M364.2 155.7V164.7M364.2 141.1V150.1M364.2 126.6V135.6M364.2 112.0V121.0M364.2 97.5V106.5M364.2 82.9V91.9M364.2 68.4V77.4M364.2 53.8V62.8M364.2 39.2V48.2M364.2 24.7V33.7M364.2 14.2V19.2" stroke="#202020" stroke-width="1.35" fill="none"/>
<path d="M449.4 286.6V295.3M449.4 272.1V281.1M449.4 257.5V266.5M449.4 243.0V252.0M449.4 228.4V237.4M449.4 213.9V222.9M449.4 199.3V208.3M449.4 184.8V193.8M449.4 170.2V179.2M449.4 155.7V164.7M449.4 141.1V150.1M449.4 126.6V135.6M449.4 112.0V121.0M449.4 97.5V106.5M449.4 82.9V91.9M449.4 68.4V77.4M449.4 53.8V62.8M449.4 39.2V48.2M449.4 24.7V33.7M449.4 14.2V19.2" stroke="#202020" stroke-width="1.35" fill="none"/>
<path d="M544.1 286.6V295.3M544.1 272.1V281.1M544.1 257.5V266.5M544.1 243.0V252.0M544.1 228.4V237.4M544.1 213.9V222.9M544.1 199.3V208.3M544.1 184.8V193.8M544.1 170.2V179.2M544.1 155.7V164.7M544.1 141.1V150.1M544.1 126.6V135.6M544.1 112.0V121.0M544.1 97.5V106.5M544.1 82.9V91.9M544.1 68.4V77.4M544.1 53.8V62.8M544.1 39.2V48.2M544.1 24.7V33.7M544.1 14.2V19.2" stroke="#202020" stroke-width="1.35" fill="none"/>
<path d="M158.3 295.3v-5.6M158.3 14.2v5.6M170.2 295.3v-5.6M170.2 14.2v5.6M182.1 295.3v-5.6M182.1 14.2v5.6M194.0 295.3v-5.6M194.0 14.2v5.6M205.8 295.3v-5.6M205.8 14.2v5.6M229.3 295.3v-4.4M229.3 14.2v4.4M245.5 295.3v-4.4M245.5 14.2v4.4M257.0 295.3v-4.4M257.0 14.2v4.4M265.9 295.3v-4.4M265.9 14.2v4.4M273.1 295.3v-4.4M273.1 14.2v4.4M279.3 295.3v-4.4M279.3 14.2v4.4M284.6 295.3v-4.4M284.6 14.2v4.4M289.3 295.3v-4.4M289.3 14.2v4.4M293.5 295.3v-8.4M293.5 14.2v8.4M321.1 295.3v-4.4M321.1 14.2v4.4M337.3 295.3v-4.4M337.3 14.2v4.4M348.8 295.3v-4.4M348.8 14.2v4.4M357.7 295.3v-4.4M357.7 14.2v4.4M364.9 295.3v-4.4M364.9 14.2v4.4M371.1 295.3v-4.4M371.1 14.2v4.4M376.4 295.3v-4.4M376.4 14.2v4.4M381.1 295.3v-4.4M381.1 14.2v4.4M385.3 295.3v-8.4M385.3 14.2v8.4M412.9 295.3v-4.4M412.9 14.2v4.4M429.1 295.3v-4.4M429.1 14.2v4.4M440.6 295.3v-4.4M440.6 14.2v4.4M449.5 295.3v-4.4M449.5 14.2v4.4M456.7 295.3v-4.4M456.7 14.2v4.4M462.9 295.3v-4.4M462.9 14.2v4.4M468.2 295.3v-4.4M468.2 14.2v4.4M472.9 295.3v-4.4M472.9 14.2v4.4M477.1 295.3v-8.4M477.1 14.2v8.4M504.7 295.3v-4.4M504.7 14.2v4.4M520.9 295.3v-4.4M520.9 14.2v4.4M532.4 295.3v-4.4M532.4 14.2v4.4M541.3 295.3v-4.4M541.3 14.2v4.4M548.5 295.3v-4.4M548.5 14.2v4.4M554.7 295.3v-4.4M554.7 14.2v4.4M560.0 295.3v-4.4M560.0 14.2v4.4M564.7 295.3v-4.4M564.7 14.2v4.4M568.9 295.3v-8.4M568.9 14.2v8.4M596.5 295.3v-4.4M596.5 14.2v4.4M612.7 295.3v-4.4M612.7 14.2v4.4M62.6 33.9h6.2M622.8 33.9h-6.2M62.6 74.6h3.2M622.8 74.6h-3.2M62.6 131.9h3.2M622.8 131.9h-3.2M62.6 229.8h6.2M622.8 229.8h-6.2M62.6 244.7h3.2M622.8 244.7h-3.2M62.6 261.3h3.2M622.8 261.3h-3.2M62.6 280.2h3.2M622.8 280.2h-3.2" stroke="#2a2a2a" stroke-width="1" fill="none"/>
<rect x="62.6" y="14.2" width="560.2" height="281.1" fill="none" stroke="#2a2a2a" stroke-width="1"/>
<g font-family="'Liberation Serif', 'DejaVu Serif', serif" fill="#333" font-size="18">
<text x="57.2" y="39.2" text-anchor="end" textLength="32" lengthAdjust="spacing">0.04</text>
<text x="57.2" y="234.8" text-anchor="end" textLength="32" lengthAdjust="spacing">0.01</text>
<text x="158.3" y="316.5" text-anchor="middle">-2</text>
<text x="206" y="316.5" text-anchor="middle">0</text>
<text x="276.0" y="316.6">10<tspan font-size="16.4" dy="-5.3" dx="0.1">−</tspan><tspan font-size="12.6" dy="-1.1" dx="0.9">3</tspan></text>
<text x="367.8" y="316.6">10<tspan font-size="16.4" dy="-5.3" dx="0.1">−</tspan><tspan font-size="12.6" dy="-1.1" dx="0.9">2</tspan></text>
<text x="459.6" y="316.6">10<tspan font-size="16.4" dy="-5.3" dx="0.1">−</tspan><tspan font-size="12.6" dy="-1.1" dx="0.9">1</tspan></text>
<text x="556.3" y="316.6">10<tspan font-size="12.6" dy="-6.6" dx="0.3">0</tspan></text>
<text x="395.6" y="339"><tspan font-style="italic" font-size="19">t</tspan><tspan font-size="12.6" dy="-6.8" dx="0.4" letter-spacing="0.55">NaCl</tspan></text>
<text transform="translate(15.6,307.6) rotate(-90)"><tspan x="0.0" textLength="72.0" lengthAdjust="spacing">Apparent</tspan> <tspan x="78.4" textLength="70.0" lengthAdjust="spacing">electrical</tspan> <tspan x="156.1" textLength="97.0" lengthAdjust="spacing">conductivity</tspan> <tspan x="260.8" textLength="46.0" lengthAdjust="spacing">(S/m)</tspan></text>
</g>
</svg>
</body></html>
